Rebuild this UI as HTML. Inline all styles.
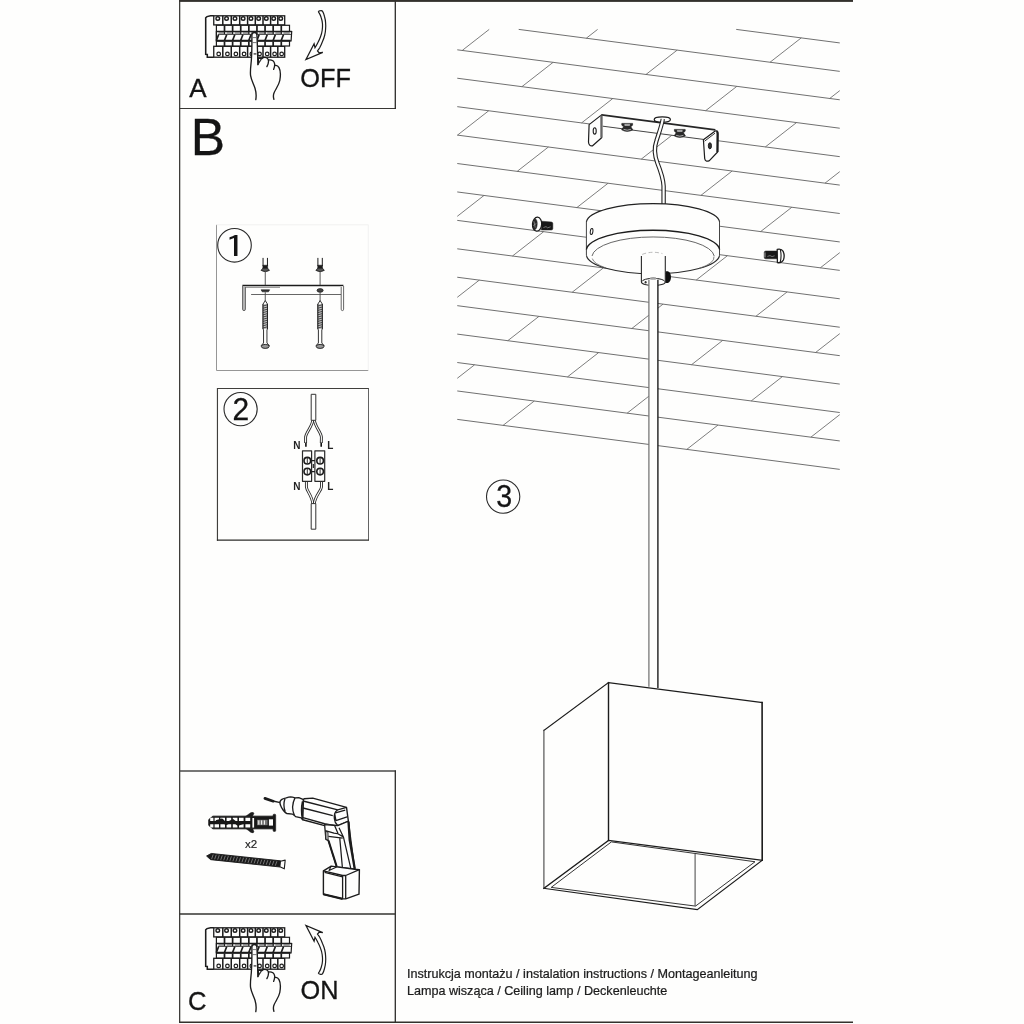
<!DOCTYPE html>
<html lang="pl">
<head>
<meta charset="utf-8">
<title>Instrukcja montażu</title>
<style>
html,body{margin:0;padding:0;background:#fefefd;}
body{width:1024px;height:1024px;overflow:hidden;font-family:"Liberation Sans",sans-serif;}
svg{display:block;will-change:transform;}
</style>
</head>
<body>
<svg width="1024" height="1024" viewBox="0 0 1024 1024">
<rect x="0" y="0" width="1024" height="1024" fill="#fefefd"/>
<!-- ceiling -->
<g stroke="#707070" stroke-width="1" fill="none" stroke-linecap="butt">
<path d="M736.21 29.4L839.75 42.93 M518.69 29.4L839.75 71.36 M457.25 49.8L839.75 99.79 M457.25 78.23L839.75 128.22 M457.25 106.66L839.75 156.65 M457.25 135.09L839.75 185.08 M457.25 163.52L839.75 213.51 M457.25 191.95L839.75 241.94 M457.25 220.38L839.75 270.37 M457.25 248.81L839.75 298.8 M457.25 277.24L839.75 327.23 M457.25 305.67L839.75 355.66 M457.25 334.1L839.75 384.09 M457.25 362.53L839.75 412.52 M457.25 390.96L839.75 440.95 M457.25 419.39L839.75 469.38"/>
<path d="M586.29 38.24L597.61 29.4 M770.04 62.25L801.24 37.9 M462.22 50.45L489.19 29.4 M645.97 74.47L677.17 50.11 M829.72 98.48L839.75 90.65 M521.9 86.68L553.1 62.33 M705.65 110.7L736.85 86.34 M581.58 122.91L612.78 98.56 M765.33 146.93L796.53 122.57 M457.51 135.12L488.71 110.77 M641.26 159.14L672.46 134.79 M825.01 183.16L839.75 171.65 M517.19 171.35L548.39 147 M700.94 195.37L732.14 171.02 M576.87 207.58L608.07 183.23 M760.62 231.6L791.82 207.25 M457.25 216.33L484 195.45 M636.55 243.81L667.75 219.46 M820.3 267.83L839.75 252.65 M512.48 256.03L543.68 231.68 M696.23 280.04L727.43 255.69 M572.16 292.26L603.36 267.91 M755.91 316.27L787.11 291.92 M457.25 297.32L479.29 280.12 M631.84 328.49L663.04 304.14 M815.59 352.51L839.75 333.65 M507.77 340.7L538.97 316.35 M691.52 364.72L722.72 340.37 M567.45 376.93L598.65 352.58 M751.2 400.95L782.4 376.6 M457.25 378.32L474.58 364.8 M627.13 413.16L658.33 388.81 M810.88 437.18L839.75 414.65 M503.06 425.38L534.26 401.03 M686.81 449.39L718.01 425.04" stroke="#666" stroke-width="0.85"/>
</g>
<!-- bracket, wire, screws -->
<g stroke="#1c1c1c" fill="#fefefd" stroke-linejoin="round">
<path d="M601.6 114.9 L715.4 129.9 L703.4 139.4 L589.2 124.5 Z" stroke="none"/>
<path d="M601.6 114.9 L715.4 129.9" fill="none" stroke="#262626" stroke-width="1.7"/>
<path d="M602.8 126.2 L703.4 139.4" fill="none" stroke="#484848" stroke-width="1"/>
<path d="M601.6 114.9 L589.1 124.6 L588.5 142 Q588.8 146.4 592.6 145.8 L601.6 137.8 Z" stroke-width="1.2"/>
<path d="M601.4 115.4 L601.4 137.6" fill="none" stroke="#666" stroke-width="2.2"/>
<ellipse cx="594.7" cy="130.9" rx="1.5" ry="3.2" stroke-width="1.1"/>
<path d="M703.4 139.8 L715.2 131 Q717.8 130.6 717.8 133.4 L717.6 152 L709.4 160.6 Q705.4 162.4 704.7 158.6 Z" stroke-width="1.2"/>
<path d="M716.4 131.4 Q717.6 131.6 717.6 134 L717.4 152" fill="none" stroke-width="2.2"/>
<path d="M704.6 141.2 L715 133.2" fill="none" stroke-width="0.9"/>
<ellipse cx="709.9" cy="145.8" rx="1.6" ry="3.1" fill="#333" stroke-width="0.9"/>
<g transform="translate(627.2 127.4)">
<path d="M-5.4 -4 H5.4 V-2.2 L3.6 -0.6 L5.6 2.4 Q0 5.6 -5.6 2.4 L-3.6 -0.6 L-5.4 -2.2 Z" fill="#2a2a2a" stroke-width="0.6"/>
<path d="M-2.4 -3 H2.4 V-2 H-2.4 Z M-3.6 2 Q0 3.6 3.6 2" fill="none" stroke="#cfcfcf" stroke-width="0.8"/>
</g>
<g transform="translate(679.8 133.4)">
<path d="M-5.4 -4 H5.4 V-2.2 L3.6 -0.6 L5.6 2.4 Q0 5.6 -5.6 2.4 L-3.6 -0.6 L-5.4 -2.2 Z" fill="#2a2a2a" stroke-width="0.6"/>
<path d="M-2.4 -3 H2.4 V-2 H-2.4 Z M-3.6 2 Q0 3.6 3.6 2" fill="none" stroke="#cfcfcf" stroke-width="0.8"/>
</g>
<ellipse cx="662.3" cy="119.4" rx="8.1" ry="2.6" stroke-width="1.2"/>
</g>
<path d="M662.8 119 C661.6 126 658.6 134 656.4 141 C653.6 149 654.4 155 657.4 163 C660.6 171 663.2 178 663.6 186 L663.6 204" fill="none" stroke="#222" stroke-width="4.4"/>
<path d="M662.8 119 C661.6 126 658.6 134 656.4 141 C653.6 149 654.4 155 657.4 163 C660.6 171 663.2 178 663.6 186 L663.6 204" fill="none" stroke="#fefefd" stroke-width="2.2"/>
<g stroke="#1c1c1c" stroke-linejoin="round">
<path d="M541.4 221.2 L551.4 222 Q552.8 222.2 552.8 223.6 V228.6 Q552.8 230 551.4 230 H541.4 Z" fill="#181818" stroke-width="0.5"/>
<path d="M543.4 227.6 L546 226.6 L547.6 227.8 L550.6 226.8" stroke="#999" stroke-width="0.7" fill="none"/>
<ellipse cx="537.1" cy="224.2" rx="4.6" ry="7" fill="#fefefd" stroke-width="1.3" transform="rotate(4 537.1 224.2)"/>
<ellipse cx="535" cy="224.4" rx="2.2" ry="5.4" fill="#2a2a2a" stroke-width="0.5" transform="rotate(4 535 224.4)"/>
<path d="M534 221.4 L535.2 227.6 M533.4 225.6 L536.4 223.4" stroke="#aaa" stroke-width="0.6" fill="none"/>
<path d="M765.8 251 H777.4 V258.8 H765.8 Q764.2 258.8 764.2 257.2 V252.6 Q764.2 251 765.8 251 Z" fill="#181818" stroke-width="0.5"/>
<path d="M765 252.4 V257.4" stroke="#ddd" stroke-width="0.7" fill="none"/>
<path d="M767.4 256.4 L770 255.6 L772 256.6 L774.6 255.8" stroke="#999" stroke-width="0.7" fill="none"/>
<path d="M777.2 249.4 Q781.4 248.4 783.2 251.4 Q785 255.6 783.4 260 Q781.6 263.4 777.4 262.6 Z" fill="#fefefd" stroke-width="1.3"/>
<path d="M780.4 250 Q781.8 256 780.2 262.4" fill="none" stroke-width="1.1"/>
</g>
<!-- lamp -->
<g stroke="#1c1c1c" stroke-width="1.2" fill="#fefefd" stroke-linejoin="round">
<path d="M586.4 221.8 A66.7 19.2 0 0 1 719.6 221.8 L719.6 255.3 A66.7 19.7 0 0 1 586.4 255.3 Z" stroke="none"/>
<path d="M586.4 221.8 A66.7 19.2 0 0 1 719.6 221.8" fill="none" stroke="#222" stroke-width="1.15"/>
<path d="M586.4 221.8 V255.3 M719.5 221.8 V255.3" fill="none" stroke="#444" stroke-width="1"/>
<path d="M719.6 255.3 A66.7 19.7 0 0 1 586.4 255.3" fill="none" stroke="#2a2a2a" stroke-width="1.1"/>
<path d="M586.4 249.5 A66.7 20.3 0 0 1 719.6 249.5" fill="none" stroke-width="1.4"/>
<path d="M592 256 A61.2 20.2 0 0 1 714.2 256" fill="none" stroke-width="0.9" stroke="#555"/>
<path d="M592.3 258.6 A62.4 17.2 0 0 0 606 268 M714 256.5 A62.4 17.2 0 0 1 699 268.4" fill="none" stroke-width="0.8" stroke="#666"/>
<ellipse cx="591.6" cy="231.5" rx="1.3" ry="3.1" stroke-width="1" transform="rotate(8 591.6 231.5)"/>
</g>
<g stroke="#1c1c1c" stroke-width="1.1" fill="#fefefd">
<path d="M665.4 271.2 H668 Q671 273 671 277 Q671 281.4 668 283 H665.4 Z" fill="#111" stroke="none"/>
<path d="M641.4 255 L641.4 281.9 A11.95 3.8 0 0 0 665.3 281.9 L665.3 255 A11.95 3.2 0 0 0 641.4 255 Z" stroke="none"/>
<path d="M641.4 256.1 L641.4 281.9 A11.95 3.8 0 0 0 665.3 281.9 L665.3 256.1" fill="none" stroke="#2a2a2a"/>
<path d="M642.2 254.4 Q652 250.6 662.4 253.6" fill="none" stroke="#aaa" stroke-width="0.8" stroke-dasharray="4 2.5"/>
<path d="M641.8 281.6 A11.6 3.6 0 0 1 664.9 281.6" fill="none" stroke-width="1"/>
<ellipse cx="653.2" cy="278.6" rx="3.4" ry="1" fill="#aaa" stroke="#777" stroke-width="0.5"/>
<ellipse cx="645.6" cy="282.2" rx="1" ry="1.2" fill="#333" stroke="none"/>
</g>
<rect x="648.9" y="279.8" width="9" height="407" fill="#fefefd" stroke="none"/>
<g fill="none">
<line x1="648.9" y1="279.8" x2="648.9" y2="686.8" stroke="#777" stroke-width="1.3"/>
<line x1="657.9" y1="279.8" x2="657.9" y2="688" stroke="#1c1c1c" stroke-width="1.4"/>
</g>
<g stroke="#1c1c1c" stroke-width="1.2" fill="none" stroke-linejoin="miter" stroke-linecap="square">
<path d="M543.9 730.4 L608.5 682.6 L762.1 702.6 L762.2 860.3 L697.3 909.6 L543.9 888.3 Z" fill="#fefefd" stroke="none"/>
<path d="M543.9 730.4 L608.5 682.6 L762.1 702.6" stroke-width="1.25"/>
<path d="M762.1 702.6 L762.2 860.3" stroke-width="1.6"/>
<path d="M762.2 860.3 L697.3 909.6 L543.9 888.3" stroke-width="1.15"/>
<path d="M543.9 888.3 L543.9 730.4" stroke="#555" stroke-width="1.2"/>
<path d="M608.5 682.6 L608.5 840.4" stroke-width="1.4"/>
<path d="M543.9 888.3 L608.5 840.4 L762.2 860.3" stroke-width="1.2"/>
<path d="M551.2 887.4 L611.4 841.9 L755 861.75 L695.5 906.1 Z" stroke="#2a2a2a" stroke-width="0.95" stroke-linecap="butt"/>
<path d="M695.1 854 L695.1 906" stroke="#555" stroke-width="1.1" stroke-linecap="butt"/>
</g>
<!-- frame -->
<g fill="none" stroke-linecap="butt">
<line x1="179.65" y1="0" x2="179.65" y2="1022.8" stroke="#3e3d39" stroke-width="1.3"/>
<line x1="179" y1="1022.15" x2="853" y2="1022.15" stroke="#33312d" stroke-width="1.5"/>
<line x1="179.55" y1="108.55" x2="396" y2="108.55" stroke="#383734" stroke-width="1.1"/>
<line x1="395.3" y1="0" x2="395.3" y2="109.1" stroke="#2c2b29" stroke-width="1.3"/>
<line x1="179.55" y1="771" x2="396" y2="771" stroke="#4a4a48" stroke-width="1.3"/>
<line x1="395.3" y1="770.4" x2="395.3" y2="1022" stroke="#2c2b29" stroke-width="1.3"/>
<line x1="179.55" y1="914" x2="395.3" y2="914" stroke="#353431" stroke-width="1.45"/>
</g>
<rect x="179" y="0" width="674" height="1.9" fill="#33312d"/>
<!-- panel A -->
<g transform="translate(0 0)" stroke="#1c1c1c" fill="#fefefd" stroke-linejoin="miter">
<path d="M213.8 15.7 L210.6 15.7 L207 16.6 L205.7 17.8 L205.7 54.2 L207.3 54.4 L207.3 57.2 L213.8 57.2 Z" stroke="none"/><path d="M213.8 15.7 L210.6 15.7 L207 16.6 L205.7 17.8 L205.7 54.2 L207.3 54.4 L207.3 57.2 L213.8 57.2" fill="none" stroke-width="1.55"/>
<rect x="213.75" y="15.8" width="70.95" height="9.1" stroke-width="1.3"/>
<path d="M222.8 15.8 V24.9 M231.25 15.8 V24.9 M239.7 15.8 V24.9 M247.6 15.8 V24.9 M255.3 15.8 V24.9 M263 15.8 V24.9 M270.6 15.8 V24.9 M277.8 15.8 V24.9" stroke-width="1.5" fill="none"/>
<circle cx="217.78" cy="18.5" r="1.8" stroke-width="1.4"/>
<circle cx="226.53" cy="18.5" r="1.8" stroke-width="1.4"/>
<circle cx="234.97" cy="18.5" r="1.8" stroke-width="1.4"/>
<circle cx="243.15" cy="18.5" r="1.8" stroke-width="1.4"/>
<circle cx="250.95" cy="18.5" r="1.8" stroke-width="1.4"/>
<circle cx="258.65" cy="18.5" r="1.8" stroke-width="1.4"/>
<circle cx="266.3" cy="18.5" r="1.8" stroke-width="1.4"/>
<circle cx="273.7" cy="18.5" r="1.8" stroke-width="1.4"/>
<circle cx="280.75" cy="18.5" r="1.8" stroke-width="1.4"/>
<rect x="213.75" y="46.3" width="70.95" height="10.9" stroke-width="1.3"/>
<path d="M222.8 46.3 V57.2 M231.25 46.3 V57.2 M239.7 46.3 V57.2 M247.6 46.3 V57.2 M255.3 46.3 V57.2 M263 46.3 V57.2 M270.6 46.3 V57.2 M277.8 46.3 V57.2" stroke-width="1.5" fill="none"/>
<circle cx="218.68" cy="53.9" r="1.8" stroke-width="1.2"/>
<circle cx="227.43" cy="53.9" r="1.8" stroke-width="1.2"/>
<circle cx="235.88" cy="53.9" r="1.8" stroke-width="1.2"/>
<circle cx="244.05" cy="53.9" r="1.8" stroke-width="1.2"/>
<circle cx="251.85" cy="53.9" r="1.8" stroke-width="1.2"/>
<circle cx="259.55" cy="53.9" r="1.8" stroke-width="1.2"/>
<circle cx="267.2" cy="53.9" r="1.8" stroke-width="1.2"/>
<circle cx="274.6" cy="53.9" r="1.8" stroke-width="1.2"/>
<circle cx="281.65" cy="53.9" r="1.8" stroke-width="1.2"/>
<rect x="216.4" y="25.3" width="73.1" height="20.7" stroke-width="1.2"/>
<path d="M224.51 25.3 V31.4 M224.51 41.4 V46 M232.62 25.3 V31.4 M232.62 41.4 V46 M240.73 25.3 V31.4 M240.73 41.4 V46 M248.84 25.3 V31.4 M248.84 41.4 V46 M256.95 25.3 V31.4 M256.95 41.4 V46 M265.06 25.3 V31.4 M265.06 41.4 V46 M273.17 25.3 V31.4 M273.17 41.4 V46 M281.28 25.3 V31.4 M281.28 41.4 V46" stroke-width="1.7" fill="none"/>
<path d="M216.4 31.5 H291.7 L291.1 40.9 H216.4 Z" stroke-width="1.2"/>
<path d="M218.6 33 H291" stroke="#8a8a8a" stroke-width="1.5" fill="none" stroke-dasharray="6.3 1.81"/>
<path d="M218 34.4 H291.2" stroke="#2a2a2a" stroke-width="0.9" fill="none"/>
<path d="M216.3 40.6 L218.6 34.6 M224.41 40.6 L226.71 34.6 M232.52 40.6 L234.82 34.6 M240.63 40.6 L242.93 34.6 M248.74 40.6 L251.04 34.6 M256.85 40.6 L259.15 34.6 M264.96 40.6 L267.26 34.6 M273.07 40.6 L275.37 34.6 M281.18 40.6 L283.48 34.6" stroke-width="1.6" fill="none"/>
<path d="M224.51 31.5 V34 M232.62 31.5 V34 M240.73 31.5 V34 M248.84 31.5 V34 M256.95 31.5 V34 M265.06 31.5 V34 M273.17 31.5 V34 M281.28 31.5 V34" stroke-width="1.2" fill="none"/>
<path d="M216.4 40.8 H290.4" stroke-width="2.1" fill="none"/>
<path d="M216.4 31.5 H291.7" stroke-width="1.3" fill="none"/>
<path d="M251.9 35 C251.9 31.6 256.9 31.6 256.9 35 L257.3 44 L257.9 64.7 L262 58.6 C263.4 56.9 267 56.9 268.1 59.2 C269 59.6 271 59.4 272.4 60.2 C274.1 61.2 275 63.4 274.9 65.5 C276.4 65.1 278 65.8 279 67.6 C280.3 70 280.6 76 279.8 80.5 C278.9 85 276.1 88.6 274.3 92.2 C273.1 94.6 273.2 97 273.9 99.4 L255.8 99.6 C256.4 96 256.3 92.4 255 88.2 C253.8 84.2 251.4 80.6 250.6 75.6 C250 71.2 250.8 66 251.3 61 C251.7 56 251.9 48 251.9 44 Z" stroke="none"/>
<path d="M255.8 99.6 C256.4 96 256.3 92.4 255 88.2 C253.8 84.2 251.4 80.6 250.6 75.6 C250 71.2 250.8 66 251.3 61 C251.7 56 251.9 48 251.9 44 L251.9 35 C251.9 31.6 256.9 31.6 256.9 35 L257.3 44 L257.9 64.7 M262 58.6 C263.4 56.9 267 56.9 268.1 59.2 C269.1 61.4 268.3 64 266.9 66.6 M268.3 60.2 C270 59.4 272.9 60 274 62 C275.2 64.2 274.8 66.6 273.6 69.4 M274.8 65.6 C276.4 65.1 278 65.8 279 67.6 C280.3 70 280.6 76 279.8 80.5 C278.9 85 276.1 88.6 274.3 92.2 C273.1 94.6 273.2 97 273.9 99.4" fill="none" stroke-width="1.35" stroke-linecap="round" stroke-linejoin="round"/>
<path d="M257.9 58 L262.3 58 L257.9 65 Z" fill="#1c1c1c" stroke-width="0.6"/>
<path d="M259 59 L260.6 59 L259 61.6 Z" fill="#fefefd" stroke="none"/>
<path d="M252.4 37.6 H256.6 M252.4 42.6 H256.8" stroke="#666" stroke-width="0.9" fill="none"/>
<path d="M253.6 53.9 H256.4" stroke="#444" stroke-width="1.4" fill="none"/>
</g>
<!-- panel C -->
<g transform="translate(0 912)" stroke="#1c1c1c" fill="#fefefd" stroke-linejoin="miter">
<path d="M213.8 15.7 L210.6 15.7 L207 16.6 L205.7 17.8 L205.7 54.2 L207.3 54.4 L207.3 57.2 L213.8 57.2 Z" stroke="none"/><path d="M213.8 15.7 L210.6 15.7 L207 16.6 L205.7 17.8 L205.7 54.2 L207.3 54.4 L207.3 57.2 L213.8 57.2" fill="none" stroke-width="1.55"/>
<rect x="213.75" y="15.8" width="70.95" height="9.1" stroke-width="1.3"/>
<path d="M222.8 15.8 V24.9 M231.25 15.8 V24.9 M239.7 15.8 V24.9 M247.6 15.8 V24.9 M255.3 15.8 V24.9 M263 15.8 V24.9 M270.6 15.8 V24.9 M277.8 15.8 V24.9" stroke-width="1.5" fill="none"/>
<circle cx="217.78" cy="18.5" r="1.8" stroke-width="1.4"/>
<circle cx="226.53" cy="18.5" r="1.8" stroke-width="1.4"/>
<circle cx="234.97" cy="18.5" r="1.8" stroke-width="1.4"/>
<circle cx="243.15" cy="18.5" r="1.8" stroke-width="1.4"/>
<circle cx="250.95" cy="18.5" r="1.8" stroke-width="1.4"/>
<circle cx="258.65" cy="18.5" r="1.8" stroke-width="1.4"/>
<circle cx="266.3" cy="18.5" r="1.8" stroke-width="1.4"/>
<circle cx="273.7" cy="18.5" r="1.8" stroke-width="1.4"/>
<circle cx="280.75" cy="18.5" r="1.8" stroke-width="1.4"/>
<rect x="213.75" y="46.3" width="70.95" height="10.9" stroke-width="1.3"/>
<path d="M222.8 46.3 V57.2 M231.25 46.3 V57.2 M239.7 46.3 V57.2 M247.6 46.3 V57.2 M255.3 46.3 V57.2 M263 46.3 V57.2 M270.6 46.3 V57.2 M277.8 46.3 V57.2" stroke-width="1.5" fill="none"/>
<circle cx="218.68" cy="53.9" r="1.8" stroke-width="1.2"/>
<circle cx="227.43" cy="53.9" r="1.8" stroke-width="1.2"/>
<circle cx="235.88" cy="53.9" r="1.8" stroke-width="1.2"/>
<circle cx="244.05" cy="53.9" r="1.8" stroke-width="1.2"/>
<circle cx="251.85" cy="53.9" r="1.8" stroke-width="1.2"/>
<circle cx="259.55" cy="53.9" r="1.8" stroke-width="1.2"/>
<circle cx="267.2" cy="53.9" r="1.8" stroke-width="1.2"/>
<circle cx="274.6" cy="53.9" r="1.8" stroke-width="1.2"/>
<circle cx="281.65" cy="53.9" r="1.8" stroke-width="1.2"/>
<rect x="216.4" y="25.3" width="73.1" height="20.7" stroke-width="1.2"/>
<path d="M224.51 25.3 V31.4 M224.51 41.4 V46 M232.62 25.3 V31.4 M232.62 41.4 V46 M240.73 25.3 V31.4 M240.73 41.4 V46 M248.84 25.3 V31.4 M248.84 41.4 V46 M256.95 25.3 V31.4 M256.95 41.4 V46 M265.06 25.3 V31.4 M265.06 41.4 V46 M273.17 25.3 V31.4 M273.17 41.4 V46 M281.28 25.3 V31.4 M281.28 41.4 V46" stroke-width="1.7" fill="none"/>
<path d="M216.4 31.5 H291.7 L291.1 40.9 H216.4 Z" stroke-width="1.2"/>
<path d="M218.6 33 H291" stroke="#8a8a8a" stroke-width="1.5" fill="none" stroke-dasharray="6.3 1.81"/>
<path d="M218 34.4 H291.2" stroke="#2a2a2a" stroke-width="0.9" fill="none"/>
<path d="M216.3 40.6 L218.6 34.6 M224.41 40.6 L226.71 34.6 M232.52 40.6 L234.82 34.6 M240.63 40.6 L242.93 34.6 M248.74 40.6 L251.04 34.6 M256.85 40.6 L259.15 34.6 M264.96 40.6 L267.26 34.6 M273.07 40.6 L275.37 34.6 M281.18 40.6 L283.48 34.6" stroke-width="1.6" fill="none"/>
<path d="M224.51 31.5 V34 M232.62 31.5 V34 M240.73 31.5 V34 M248.84 31.5 V34 M256.95 31.5 V34 M265.06 31.5 V34 M273.17 31.5 V34 M281.28 31.5 V34" stroke-width="1.2" fill="none"/>
<path d="M216.4 40.8 H290.4" stroke-width="2.1" fill="none"/>
<path d="M216.4 31.5 H291.7" stroke-width="1.3" fill="none"/>
<path d="M251.9 35 C251.9 31.6 256.9 31.6 256.9 35 L257.3 44 L257.9 64.7 L262 58.6 C263.4 56.9 267 56.9 268.1 59.2 C269 59.6 271 59.4 272.4 60.2 C274.1 61.2 275 63.4 274.9 65.5 C276.4 65.1 278 65.8 279 67.6 C280.3 70 280.6 76 279.8 80.5 C278.9 85 276.1 88.6 274.3 92.2 C273.1 94.6 273.2 97 273.9 99.4 L255.8 99.6 C256.4 96 256.3 92.4 255 88.2 C253.8 84.2 251.4 80.6 250.6 75.6 C250 71.2 250.8 66 251.3 61 C251.7 56 251.9 48 251.9 44 Z" stroke="none"/>
<path d="M255.8 99.6 C256.4 96 256.3 92.4 255 88.2 C253.8 84.2 251.4 80.6 250.6 75.6 C250 71.2 250.8 66 251.3 61 C251.7 56 251.9 48 251.9 44 L251.9 35 C251.9 31.6 256.9 31.6 256.9 35 L257.3 44 L257.9 64.7 M262 58.6 C263.4 56.9 267 56.9 268.1 59.2 C269.1 61.4 268.3 64 266.9 66.6 M268.3 60.2 C270 59.4 272.9 60 274 62 C275.2 64.2 274.8 66.6 273.6 69.4 M274.8 65.6 C276.4 65.1 278 65.8 279 67.6 C280.3 70 280.6 76 279.8 80.5 C278.9 85 276.1 88.6 274.3 92.2 C273.1 94.6 273.2 97 273.9 99.4" fill="none" stroke-width="1.35" stroke-linecap="round" stroke-linejoin="round"/>
<path d="M257.9 58 L262.3 58 L257.9 65 Z" fill="#1c1c1c" stroke-width="0.6"/>
<path d="M259 59 L260.6 59 L259 61.6 Z" fill="#fefefd" stroke="none"/>
<path d="M252.4 37.6 H256.6 M252.4 42.6 H256.8" stroke="#666" stroke-width="0.9" fill="none"/>
<path d="M253.6 53.9 H256.4" stroke="#444" stroke-width="1.4" fill="none"/>
</g>
<path d="M320.6 10.6 C321.6 10.4 322.2 10.7 322.6 11.4 C323.6 13 324.1 14.8 324.5 16.5 C325.1 18.6 325.5 20.7 325.6 22.75 C325.8 24.8 325.8 26.9 325.6 29 C325.5 31.1 325.2 33.2 324.7 35.25 C324.2 37.4 323.4 39.5 322.5 41.5 C321.7 43.6 320.8 45.8 319.7 47.75 C319 48.9 318.3 49.9 317.5 50.9 L319.1 52.75 L322.8 52.4 L305.9 59.6 L314.1 43.7 L315 47.75 C316 46.2 317 44.5 317.8 42.75 C318.9 40.7 319.9 38.6 320.6 36.5 C321.4 34.5 321.9 32.4 322.2 30.25 C322.5 28.2 322.6 26.1 322.5 24 C322.4 21.9 321.9 19.8 321.25 17.75 C320.8 16.2 320.2 14.7 319.4 13.4 C319 12.8 318.6 12.4 318.4 11.8 C318.6 11 319.6 10.7 320.6 10.6 Z" fill="#fefefd" stroke="#1c1c1c" stroke-width="1.2" stroke-linejoin="miter"/>
<path d="M320.6 10.6 C321.6 10.4 322.2 10.7 322.6 11.4 C323.6 13 324.1 14.8 324.5 16.5 C325.1 18.6 325.5 20.7 325.6 22.75 C325.8 24.8 325.8 26.9 325.6 29 C325.5 31.1 325.2 33.2 324.7 35.25 C324.2 37.4 323.4 39.5 322.5 41.5 C321.7 43.6 320.8 45.8 319.7 47.75 C319 48.9 318.3 49.9 317.5 50.9 L319.1 52.75 L322.8 52.4 L305.9 59.6 L314.1 43.7 L315 47.75 C316 46.2 317 44.5 317.8 42.75 C318.9 40.7 319.9 38.6 320.6 36.5 C321.4 34.5 321.9 32.4 322.2 30.25 C322.5 28.2 322.6 26.1 322.5 24 C322.4 21.9 321.9 19.8 321.25 17.75 C320.8 16.2 320.2 14.7 319.4 13.4 C319 12.8 318.6 12.4 318.4 11.8 C318.6 11 319.6 10.7 320.6 10.6 Z" transform="translate(0 985) scale(1 -1)" fill="#fefefd" stroke="#1c1c1c" stroke-width="1.2" stroke-linejoin="miter"/>
<!-- step 1 -->
<g fill="none">
<path d="M216.5 224.8 V370.5 H368.3" stroke="#969696" stroke-width="1"/>
<path d="M216.5 224.8 H368.3 V370.4" stroke="#f1f1ef" stroke-width="0.9"/>
</g>
<circle cx="234.5" cy="245.3" r="16.8" fill="none" stroke="#2a2a2a" stroke-width="1.1"/>
<text transform="translate(235.1 258.2) scale(1.35 1)" font-size="31.5" text-anchor="middle" font-family="IPAGothic, Liberation Sans, sans-serif" fill="#141414">1</text>
<g stroke="#1c1c1c" fill="none">
<path d="M242.4 285.6 H343.4" stroke-width="1.5"/>
<path d="M242.6 287.3 H280" stroke="#666" stroke-width="0.8"/>
<path d="M251.1 294.5 H341.1" stroke="#555" stroke-width="0.9"/>
<path d="M242.6 286 V309.2 Q242.6 310.6 244 310.6 Q245.4 310.6 245.4 309.2 V287" fill="#bbb" stroke="#555" stroke-width="0.9"/>
<path d="M341.2 287 V309.2 Q341.2 310.6 342.4 310.6 Q343.6 310.6 343.6 309.2 V286" fill="#fefefd" stroke="#555" stroke-width="0.9"/>
</g>
<g transform="translate(265.25 0)" stroke="#1c1c1c" fill="none">
<path d="M-2.2 257.9 V266 M2.2 257.9 V266" stroke-width="1"/>
<path d="M-2.4 265.2 H2.4 V268.6 H-2.4 Z" fill="#1c1c1c" stroke-width="0.5"/>
<path d="M-2.4 268.2 L-4.2 270.4 Q0 273 4.2 270.4 L2.4 268.2 Z" fill="#555" stroke-width="0.8"/>
<path d="M0 272 V285 M0 292.2 V301" stroke="#444" stroke-width="0.9"/>
<path d="M-4.2 289.8 H4.4 L3.2 291.8 H-3 Z" fill="#333" stroke-width="0.6"/>
<path d="M0 300.6 L-2.2 304 V329 L-1.7 330 V343 L-4.1 345.6 Q0 349.8 4.1 345.6 L1.7 343 V330 L2.2 329 V304 Z" fill="#fefefd" stroke-width="0.9"/>
<rect x="-2.2" y="304" width="4.4" height="25" fill="#c4c4c4" stroke="none"/>
<path d="M-2.2 306 L2.2 304.8 M-2.2 308.2 L2.2 307 M-2.2 310.4 L2.2 309.2 M-2.2 312.6 L2.2 311.4 M-2.2 314.8 L2.2 313.6 M-2.2 317 L2.2 315.8 M-2.2 319.2 L2.2 318 M-2.2 321.4 L2.2 320.2 M-2.2 323.6 L2.2 322.4 M-2.2 325.8 L2.2 324.6 M-2.2 328 L2.2 326.8" stroke="#3a3a3a" stroke-width="0.9"/>
<path d="M-2.2 304 V329 M2.2 304 V329" stroke="#222" stroke-width="1"/>
<ellipse cx="0" cy="346.4" rx="3.9" ry="2" fill="#999" stroke-width="0.9"/>
</g>
<g transform="translate(320.1 0)" stroke="#1c1c1c" fill="none">
<path d="M-2.2 257.9 V266 M2.2 257.9 V266" stroke-width="1"/>
<path d="M-2.4 265.2 H2.4 V268.6 H-2.4 Z" fill="#1c1c1c" stroke-width="0.5"/>
<path d="M-2.4 268.2 L-4.2 270.4 Q0 273 4.2 270.4 L2.4 268.2 Z" fill="#555" stroke-width="0.8"/>
<path d="M0 272 V285 M0 292.2 V301" stroke="#444" stroke-width="0.9"/>
<ellipse cx="0" cy="290.4" rx="3.1" ry="1.8" fill="#444" stroke-width="0.7"/>
<path d="M0 300.6 L-2.2 304 V329 L-1.7 330 V343 L-4.1 345.6 Q0 349.8 4.1 345.6 L1.7 343 V330 L2.2 329 V304 Z" fill="#fefefd" stroke-width="0.9"/>
<rect x="-2.2" y="304" width="4.4" height="25" fill="#c4c4c4" stroke="none"/>
<path d="M-2.2 306 L2.2 304.8 M-2.2 308.2 L2.2 307 M-2.2 310.4 L2.2 309.2 M-2.2 312.6 L2.2 311.4 M-2.2 314.8 L2.2 313.6 M-2.2 317 L2.2 315.8 M-2.2 319.2 L2.2 318 M-2.2 321.4 L2.2 320.2 M-2.2 323.6 L2.2 322.4 M-2.2 325.8 L2.2 324.6 M-2.2 328 L2.2 326.8" stroke="#3a3a3a" stroke-width="0.9"/>
<path d="M-2.2 304 V329 M2.2 304 V329" stroke="#222" stroke-width="1"/>
<ellipse cx="0" cy="346.4" rx="3.9" ry="2" fill="#999" stroke-width="0.9"/>
</g>
<!-- step 2 -->
<path d="M217.45 540.8 V388.5 H369" fill="none" stroke="#403f3c" stroke-width="1.15"/>
<path d="M368.5 388.5 V540.2" fill="none" stroke="#636363" stroke-width="1"/>
<path d="M216.9 540.2 H369" fill="none" stroke="#2c2c2a" stroke-width="1.3"/>
<circle cx="240.6" cy="409.1" r="16.6" fill="none" stroke="#2a2a2a" stroke-width="1.1"/>
<text transform="translate(240.9 419.9) scale(0.95 1)" font-size="31.5" text-anchor="middle" font-family="Liberation Sans, sans-serif" fill="#141414" stroke="#141414" stroke-width="0.3">2</text>
<g stroke="#1c1c1c" fill="#fefefd" stroke-linejoin="round">
<path d="M312.7 420 C312.6 426 306.2 432 305.6 437 L305.6 443" fill="none" stroke="#2a2a2a" stroke-width="2.9"/>
<path d="M312.7 420 C312.6 426 306.2 432 305.6 437 L305.6 443" fill="none" stroke="#fefefd" stroke-width="1.1"/>
<path d="M314.4 420 C314.6 426 321 432 321.4 437 L321.3 443" fill="none" stroke="#2a2a2a" stroke-width="2.9"/>
<path d="M314.4 420 C314.6 426 321 432 321.4 437 L321.3 443" fill="none" stroke="#fefefd" stroke-width="1.1"/>
<path d="M306.4 481.5 L306.4 487 C306.6 491 312.4 496 312.8 504" fill="none" stroke="#2a2a2a" stroke-width="2.9"/>
<path d="M306.4 481.5 L306.4 487 C306.6 491 312.4 496 312.8 504" fill="none" stroke="#fefefd" stroke-width="1.1"/>
<path d="M321.5 481.5 L321.5 487 C321.2 491 314.8 496 314.3 504" fill="none" stroke="#2a2a2a" stroke-width="2.9"/>
<path d="M321.5 481.5 L321.5 487 C321.2 491 314.8 496 314.3 504" fill="none" stroke="#fefefd" stroke-width="1.1"/>
<path d="M305.9 442.4 V446.8 M321.2 442.4 V446.8" fill="none" stroke="#111" stroke-width="1.6"/>
<rect x="311.2" y="394.3" width="4.6" height="26" stroke="#333" stroke-width="1"/>
<rect x="311.2" y="503.6" width="4.6" height="25.6" stroke="#333" stroke-width="1"/>
<rect x="302.5" y="450.8" width="9.1" height="30.5" stroke="#2a2a2a" stroke-width="1.2"/>
<rect x="314.9" y="450.8" width="9.8" height="30.5" stroke="#2a2a2a" stroke-width="1.2"/>
<circle cx="307.3" cy="460.7" r="3.3" stroke-width="1.6"/>
<path d="M307.3 457.7 V463.7" stroke="#333" stroke-width="1" fill="none"/>
<circle cx="307.3" cy="471.6" r="3.3" stroke-width="1.6"/>
<path d="M307.3 468.6 V474.6" stroke="#333" stroke-width="1" fill="none"/>
<circle cx="320.1" cy="460.7" r="3.3" stroke-width="1.6"/>
<path d="M320.1 457.7 V463.7" stroke="#333" stroke-width="1" fill="none"/>
<circle cx="320.1" cy="471.6" r="3.3" stroke-width="1.6"/>
<path d="M320.1 468.6 V474.6" stroke="#333" stroke-width="1" fill="none"/>
<path d="M311.6 460.7 H314.9 M311.6 471.6 H314.9 M313.3 464 V468" stroke-width="1.2" fill="none"/>
</g>
<g font-family="Liberation Sans, sans-serif" font-weight="bold" font-size="10" fill="#222">
<text x="293.2" y="448.6">N</text><text x="327.2" y="448.6">L</text>
<text x="293.2" y="489.7">N</text><text x="327.2" y="489.7">L</text>
</g>
<!-- tools -->
<g stroke="#1c1c1c" fill="#fefefd" stroke-linejoin="round">
<path d="M245.4 816.4 L250.9 812.6 Q253.8 811.8 254 813.6 L252.4 816.4 Z M246.2 828.8 L250.9 832.4 Q253.8 833.6 254 831.8 L252.8 828.8 Z" fill="#1c1c1c" stroke-width="0.4"/>
<path d="M212.8 816.2 H274 V828.8 H212.8 L208.8 825.4 V819.6 Z" fill="#181818" stroke-width="1"/>
<rect x="273.1" y="814.2" width="2.6" height="17.2" rx="0.9" fill="#161616" stroke-width="0.6"/>
<path d="M210.2 817.7 h3.2 v3.2 h-3.2 Z M210.2 824.2 h3.2 v3.4 h-3.2 Z M214.6 817.7 h4.4 v3.2 h-4.4 Z M214.6 824.2 h4.4 v3.4 h-4.4 Z M220.4 817.7 h4.6 v3.2 h-4.6 Z M220.4 824.2 h4.6 v3.4 h-4.6 Z M226.6 817.7 h4.6 v3.2 h-4.6 Z M226.6 824.2 h4.6 v3.4 h-4.6 Z M232.8 817.7 h4.6 v3.2 h-4.6 Z M232.8 824.2 h4.6 v3.4 h-4.6 Z M239 817.7 h4.6 v3.2 h-4.6 Z M239 824.2 h4.6 v3.4 h-4.6 Z M245.4 817.7 h4.8 v3.2 h-4.8 Z M245.4 824.2 h4.8 v3.4 h-4.8 Z" fill="#fefefd" stroke="none"/>
<path d="M216 821.4 L222 819.8 L226 823.8 L233 820.4 L238 824.4 L243.6 822.6" fill="none" stroke="#181818" stroke-width="2.6" stroke-linejoin="round"/>
<rect x="252.4" y="818" width="1.7" height="9.6" fill="#fefefd" stroke="none"/>
<rect x="257" y="819.8" width="10.6" height="5.4" fill="#777" stroke="none"/>
<path d="M258.8 820.4 v4.2 M261.6 820.4 v4.2 M264.4 820.4 v4.2" stroke="#fefefd" stroke-width="1" fill="none"/>
<rect x="268.9" y="819.3" width="4.1" height="6.3" fill="#fefefd" stroke="none"/>
<g transform="translate(206.6 856) rotate(6.05)">
<path d="M0 0 L4.4 -3 H74 V3.2 H4.4 Z" fill="#1a1a1a" stroke-width="0.9"/>
<path d="M6.4 -2.2 l-1.1 4.6 M9.45 -2.2 l-1.1 4.6 M12.5 -2.2 l-1.1 4.6 M15.55 -2.2 l-1.1 4.6 M18.6 -2.2 l-1.1 4.6 M21.65 -2.2 l-1.1 4.6 M24.7 -2.2 l-1.1 4.6 M27.75 -2.2 l-1.1 4.6 M30.8 -2.2 l-1.1 4.6 M33.85 -2.2 l-1.1 4.6 M36.9 -2.2 l-1.1 4.6 M39.95 -2.2 l-1.1 4.6 M43 -2.2 l-1.1 4.6 M46.05 -2.2 l-1.1 4.6 M49.1 -2.2 l-1.1 4.6 M52.15 -2.2 l-1.1 4.6 M55.2 -2.2 l-1.1 4.6 M58.25 -2.2 l-1.1 4.6 M61.3 -2.2 l-1.1 4.6 M64.35 -2.2 l-1.1 4.6 M67.4 -2.2 l-1.1 4.6 M70.45 -2.2 l-1.1 4.6" stroke="#8e8e8e" stroke-width="0.75" fill="none"/>
<path d="M74 -2.6 L78.6 -4.2 V4.6 L74 3 Z" fill="#fefefd" stroke-width="1.1"/>
</g>
<path d="M264.9 798.4 L273.2 801.2" fill="none" stroke-width="2.7" stroke-linecap="round"/>
<path d="M273 801 L280.2 802.6" fill="none" stroke-width="1.3"/>
<path d="M280 801.6 C280.6 800.4 281.2 799.8 281.9 799.4 C283.4 798.6 284.8 798.2 286.25 797.9 C287.8 797.4 289.2 797 290.6 796.9 C292.2 796.9 293.6 797.4 295 797.9 L298.75 797.7 L303.6 799.6 L302.6 819.6 L301.25 817.9 L295.6 816.6 C294.4 815.2 293.4 814.4 292.5 814.1 L286.9 813.5 C286 813.2 285.4 812.8 285 812.25 C283.8 811 283 810 282.5 809.1 C281.6 807.8 281 806.6 280.6 805.4 C280.1 804.1 279.9 802.8 280 801.6 Z" stroke-width="1.4"/>
<path d="M285 798.5 C283.6 802.6 283.6 807.4 285.2 811.8 M295 797.9 C292.2 803.4 292 810 294.4 815.6" fill="none" stroke-width="1.3"/>
<path d="M302.6 801.4 C301.5 806.4 301.4 813.6 302.6 819.6" fill="none" stroke-width="1.7"/>
<path d="M303.4 800 L304 798.75 L312.75 798.1 L346.5 807.4 L348.4 821.25 L337.75 825.6 L333.4 825.3 L324.6 825.6 L302.8 819.8 Z" stroke-width="1.4"/>
<path d="M304 801.25 L337.75 809.8 M303 808 L332.75 815.6 M303 817.6 L324.6 823.75 L333.4 825.3" fill="none" stroke-width="1.3"/>
<path d="M337.75 809.8 L346.5 807.4 M334.6 813.1 L345.25 810.2 M335.9 820.6 L347.1 816.9 M337.75 809.8 C335 811.6 333.8 815.4 334.4 819 C334.6 821.4 335.6 823.8 337.75 825.6 M334.6 813.1 L335.9 820.6" fill="none" stroke-width="1.3"/>
<path d="M324.6 824.6 L325.9 839.4 L328.4 840.6 L336.7 866.9 L354.7 869.2 L348.4 821.25 L337.75 825.6 L333.4 825.3 Z" stroke-width="1.3"/>
<path d="M348.5 821.6 L349.7 840 L354.8 869" fill="none" stroke-width="2.3"/>
<path d="M328.5 840.6 L336.7 866.6" fill="none" stroke-width="2"/>
<path d="M325.3 830.6 L334 833.1 L337.75 833.75 L343.4 836.9 M326 839.2 L326 831 M328.4 836.4 L342.75 838.1 M334.6 825.4 L338 833.6 M339 827.8 L343.4 836.9 L350.8 868.4 M339.8 838.4 L342.6 870" fill="none" stroke-width="1.25"/>
<path d="M325.6 831.4 L328 832.2 L328.2 840 L325.9 839.2 Z" fill="#bbb" stroke-width="0.8"/>
<path d="M323.4 870.8 L331.25 866.1 L336.7 866.9 L354.7 869.2 L359.4 869.6 L359 894.2 L345.7 898.9 L342.6 898.9 L323.4 894.2 Z" stroke-width="1.4"/>
<path d="M323.4 870.8 L342.6 875.5 L345.7 875.5 L359.4 869.6 M342.6 875.5 V898.9 M345.7 875.5 V898.9" fill="none" stroke-width="1.3"/>
<path d="M324.6 872.4 L342.6 876.9 M331.25 866.1 L329 870.4 L336.7 866.9" fill="none" stroke-width="1.1"/>
<path d="M323.4 894.2 L342.6 898.9" fill="none" stroke-width="2.2"/>
</g>
<text x="245" y="848.1" font-size="11.6" font-family="Liberation Sans, sans-serif" fill="#222" stroke="#222" stroke-width="0.15">x2</text>
<!-- texts -->
<g font-family="Liberation Sans, sans-serif" fill="#141414" stroke="#141414" stroke-width="0.3">
<text x="189.2" y="96.9" font-size="26">A</text>
<text x="190.7" y="155.1" font-size="51.5">B</text>
<text x="188" y="1010.2" font-size="25.6">C</text>
<text x="300.3" y="86.7" font-size="25.3">OFF</text>
<text x="300.5" y="998.7" font-size="25.3">ON</text>
<text x="406.9" y="977.8" font-size="12.6" fill="#1e1e1e" stroke-width="0.22">Instrukcja montażu / instalation instructions / Montageanleitung</text>
<text x="406.9" y="994.9" font-size="12.6" fill="#1e1e1e" stroke-width="0.22">Lampa wisząca / Ceiling lamp / Deckenleuchte</text>
<text transform="translate(504.3 507) scale(0.93 1)" font-size="30.8" text-anchor="middle">3</text>
</g>
<circle cx="503.15" cy="496.6" r="16.65" fill="none" stroke="#2a2a2a" stroke-width="1.1"/>
</svg>
</body>
</html>
